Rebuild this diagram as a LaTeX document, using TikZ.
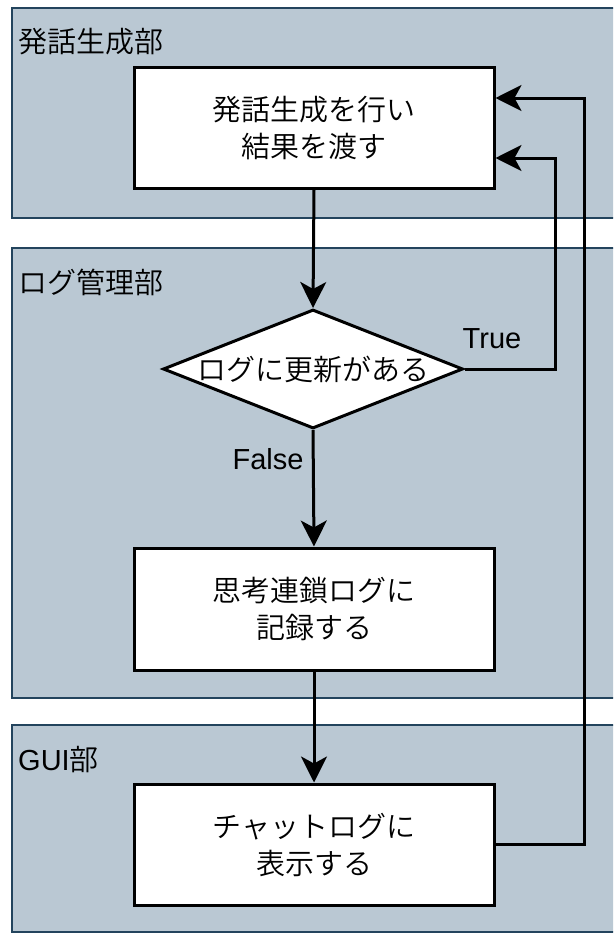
\documentclass[tikz,border=0pt]{standalone}
\usepackage{fontspec}
\setmainfont{Liberation Sans}
\newfontfamily\jp{Noto Sans CJK JP}[UprightFont=* DemiLight]
\usetikzlibrary{arrows.meta,shapes.geometric}
\definecolor{lanefill}{HTML}{BAC8D3}
\definecolor{lanedraw}{HTML}{23445D}
\tikzset{
  lane/.style={draw=lanedraw,fill=lanefill,line width=2pt},
  lanelabel/.style={anchor=west,inner sep=0pt,font={\jp\fontsize{29}{35}\selectfont}},
  procbox/.style={draw=black,fill=white,line width=3pt,minimum width=360pt,inner sep=0pt,
    align=center,font={\jp\fontsize{29}{37}\selectfont}},
  decbox/.style={diamond,draw=black,fill=white,line width=3pt,inner sep=0pt,
    minimum width=300pt,minimum height=119pt},
  flow/.style={line width=3pt,-{Stealth[length=26pt,width=26pt,inset=7pt]}},
  flowlabel/.style={inner sep=0pt,font={\fontsize{29}{35}\selectfont}}
}
\begin{document}
\begin{tikzpicture}[x=1pt,y=-1pt]
\clip (0,0) rectangle (613,934);
\fill[white] (0,0) rectangle (613,934);
% lanes
\draw[lane] (12,8) rectangle (640,218);
\draw[lane] (12,248) rectangle (640,698);
\draw[lane] (12,725) rectangle (640,932);
\node[lanelabel] (l1) at (18,42) {発話生成部};
\node[lanelabel] (l2) at (18,282) {ログ管理部};
\node[lanelabel,font={\fontsize{29}{35}\selectfont}] (l3) at (18,760) {GUI{\jp 部}};
% nodes
\node[procbox,minimum height=120pt] (b1) at (314,128) {発話生成を行い\\結果を渡す};
\node[decbox,label={[font={\jp\fontsize{29}{35}\selectfont},inner sep=0pt,name=dectext]center:ログに更新がある}] (dec) at (313,369) {};
\node[procbox,minimum height=122pt] (b3) at (314,609) {思考連鎖ログに\\記録する};
\node[procbox,minimum height=121pt] (b4) at (314,844.5) {チャットログに\\表示する};
% connectors
\coordinate (t1) at (555,158);
\coordinate (t2) at (584,98);
\draw[flow] (b1.south) -- (dec.north);
\draw[flow] (dec.east) -| (t1) -- (b1.east |- t1);
\draw[flow] (dec.south) -- (b3.north);
\draw[flow] (b3.south) -- (b4.north);
\draw[flow] (b4.east) -| (t2) -- (b1.east |- t2);
\node[flowlabel] (ltrue) at (492,339) {True};
\node[flowlabel] (lfalse) at (268,459) {False};
\end{tikzpicture}
\end{document}
